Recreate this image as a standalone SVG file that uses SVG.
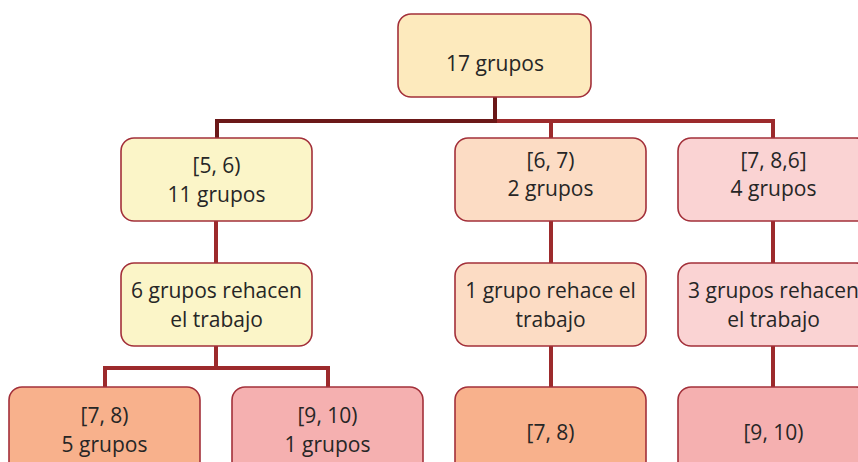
<svg xmlns="http://www.w3.org/2000/svg" width="858" height="462" viewBox="0 0 858 462">
  <style>
    .box { stroke: #a3303a; stroke-width: 1.6; }
    .t { font-family: "Open Sans", "Liberation Sans", sans-serif; font-size: 21px; fill: #262626; text-anchor: middle; }
    .ln { fill: none; stroke: #9c2a2c; stroke-width: 4; }
    .dk { fill: none; stroke: #6b1818; stroke-width: 4; }
    .c0 { fill: #fdeabd; }
    .c1 { fill: #fbf5c8; }
    .c2 { fill: #fcdcc4; }
    .c3 { fill: #fad3d3; }
    .c4 { fill: #f8b18c; }
    .c5 { fill: #f5b0b0; }
  </style>
  <rect width="858" height="462" fill="#ffffff"/>

  <!-- connectors -->
  <g id="connectors">
    <path class="ln" d="M495 121 H775 M551 121 V138 M773 121 V138"/>
    <path class="dk" d="M495 97 V121 H215 M217 121 V138"/>
    <path class="ln" d="M216 221 V263 M216 346 V368 M105 368 H328 M105 366 V387 M328 366 V387"/>
    <path class="ln" d="M551 221 V263 M551 346 V387"/>
    <path class="ln" d="M773 221 V263 M773 346 V387"/>
  </g>

  <g id="root">
    <rect class="box c0" x="398" y="14" width="193" height="83" rx="13"/>
    <text class="t" x="495" y="71">17 grupos</text>
  </g>

  <g id="n56">
    <rect class="box c1" x="121" y="138" width="191" height="83" rx="13"/>
    <text class="t" x="216.5" y="173">[5, 6)</text>
    <text class="t" x="216.5" y="202">11 grupos</text>
  </g>
  <g id="n67">
    <rect class="box c2" x="455" y="138" width="191" height="83" rx="13"/>
    <text class="t" x="550.5" y="168">[6, 7)</text>
    <text class="t" x="550.5" y="196">2 grupos</text>
  </g>
  <g id="n786">
    <rect class="box c3" x="678" y="138" width="191" height="83" rx="13"/>
    <text class="t" x="773.5" y="168">[7, 8,6]</text>
    <text class="t" x="773.5" y="196">4 grupos</text>
  </g>

  <g id="r6">
    <rect class="box c1" x="121" y="263" width="191" height="83" rx="13"/>
    <text class="t" x="216.5" y="298">6 grupos rehacen</text>
    <text class="t" x="216.5" y="327">el trabajo</text>
  </g>
  <g id="r1">
    <rect class="box c2" x="455" y="263" width="191" height="83" rx="13"/>
    <text class="t" x="550.5" y="298">1 grupo rehace el</text>
    <text class="t" x="550.5" y="327">trabajo</text>
  </g>
  <g id="r3">
    <rect class="box c3" x="678" y="263" width="191" height="83" rx="13"/>
    <text class="t" x="773.5" y="298">3 grupos rehacen</text>
    <text class="t" x="773.5" y="327">el trabajo</text>
  </g>

  <g id="b78a">
    <rect class="box c4" x="9" y="387" width="191" height="100" rx="13"/>
    <text class="t" x="104.5" y="423">[7, 8)</text>
    <text class="t" x="104.5" y="452">5 grupos</text>
  </g>
  <g id="b910a">
    <rect class="box c5" x="232" y="387" width="191" height="100" rx="13"/>
    <text class="t" x="327.5" y="423">[9, 10)</text>
    <text class="t" x="327.5" y="452">1 grupos</text>
  </g>
  <g id="b78b">
    <rect class="box c4" x="455" y="387" width="191" height="100" rx="13"/>
    <text class="t" x="550.5" y="440">[7, 8)</text>
  </g>
  <g id="b910b">
    <rect class="box c5" x="678" y="387" width="191" height="100" rx="13"/>
    <text class="t" x="773.5" y="440">[9, 10)</text>
  </g>
</svg>
